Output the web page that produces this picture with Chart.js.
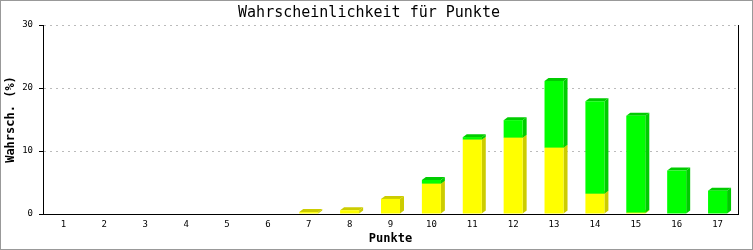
<!DOCTYPE html>
<html>
<head>
<meta charset="utf-8">
<script src="https://cdn.jsdelivr.net/npm/chart.js@4/dist/chart.umd.min.js"></script>
<style>
  html, body { margin: 0; padding: 0; background: #fff; }
  canvas { display: block; }
</style>
</head>
<body>
<canvas id="chart" width="753" height="250"></canvas>
<script>
const punkte = ["1", "2", "3", "4", "5", "6", "7", "8", "9", "10", "11", "12", "13", "14", "15", "16", "17"];
const gelbWerte = [0, 0, 0, 0, 0, 0, 0.3, 0.6, 2.4, 4.8, 11.8, 12.1, 10.5, 3.2, 0.2, 0, 0];
const gruenWerte = [0, 0, 0, 0, 0, 0, 0, 0, 0, 0.6, 0.4, 2.8, 10.6, 14.7, 15.4, 6.9, 3.7];
const yTicks = [0, 10, 20, 30];

const MONO = "'DejaVu Sans Mono', 'Liberation Mono', monospace";
const DEPTH_X = 4;
const DEPTH_Y = 3;

// side and top faces, drawn behind the flat bars
const bars3d = {
  id: "bars3d",
  beforeDatasetsDraw(chart) {
    const ctx = chart.ctx;
    ctx.save();
    chart.data.datasets.forEach((ds, di) => {
      const meta = chart.getDatasetMeta(di);
      meta.data.forEach((bar, i) => {
        if (!ds.data[i]) return;
        const { x, y, base, width } = bar.getProps(["x", "y", "base", "width"], true);
        const left = x - width / 2;
        const right = x + width / 2;
        ctx.fillStyle = ds.sideColor;
        ctx.beginPath();
        ctx.moveTo(right, y);
        ctx.lineTo(right + DEPTH_X, y - DEPTH_Y);
        ctx.lineTo(right + DEPTH_X, base - DEPTH_Y);
        ctx.lineTo(right, base);
        ctx.closePath();
        ctx.fill();
        ctx.beginPath();
        ctx.moveTo(left, y);
        ctx.lineTo(left + DEPTH_X, y - DEPTH_Y);
        ctx.lineTo(right + DEPTH_X, y - DEPTH_Y);
        ctx.lineTo(right, y);
        ctx.closePath();
        ctx.fill();
      });
    });
    ctx.restore();
  },
};

// image frame and right edge of plot
const frame = {
  id: "frame",
  beforeDraw(chart) {
    const ctx = chart.ctx;
    ctx.save();
    ctx.fillStyle = "#fff";
    ctx.fillRect(0, 0, chart.width, chart.height);
    ctx.restore();
  },
  afterDraw(chart) {
    const ctx = chart.ctx;
    const area = chart.chartArea;
    ctx.save();
    ctx.strokeStyle = "#000";
    ctx.lineWidth = 1;
    ctx.beginPath();
    ctx.moveTo(Math.round(area.right) + 0.5, area.top);
    ctx.lineTo(Math.round(area.right) + 0.5, area.bottom);
    ctx.stroke();
    ctx.strokeStyle = "#999";
    ctx.strokeRect(0.5, 0.5, chart.width - 1, chart.height - 1);
    ctx.restore();
  },
};

new Chart(document.getElementById("chart"), {
  type: "bar",
  data: {
    labels: punkte,
    datasets: [
      {
        label: "gelb",
        data: gelbWerte,
        backgroundColor: "#ffff00",
        sideColor: "#cccc00",
        borderWidth: 0,
      },
      {
        label: "grün",
        data: gruenWerte,
        backgroundColor: "#00ff00",
        sideColor: "#00cc00",
        borderWidth: 0,
      },
    ],
  },
  options: {
    responsive: false,
    animation: false,
    events: [],
    categoryPercentage: 1,
    barPercentage: 0.465,
    layout: {
      padding: { left: 0, right: 15, top: 0, bottom: 0 },
    },
    plugins: {
      legend: { display: false },
      tooltip: { enabled: false },
      title: {
        display: true,
        text: "Wahrscheinlichkeit für Punkte",
        color: "#000",
        font: { family: MONO, size: 15, weight: "normal" },
        padding: { top: 4, bottom: 3 },
      },
    },
    scales: {
      x: {
        stacked: true,
        grid: { display: false, drawTicks: false },
        border: { display: true, color: "#000", width: 1 },
        ticks: {
          color: "#000",
          font: { family: MONO, size: 9 },
          padding: 5,
          maxRotation: 0,
        },
        title: {
          display: true,
          text: "Punkte",
          color: "#000",
          font: { family: MONO, size: 12, weight: "bold" },
          padding: { top: 0, bottom: 4 },
        },
        afterFit(scale) {
          scale.height = 36;
        },
      },
      y: {
        stacked: true,
        min: 0,
        max: 30,
        afterBuildTicks(scale) {
          scale.ticks = yTicks.map((v) => ({ value: v }));
        },
        grid: {
          color: "#bbbbbb",
          tickColor: "#000",
          tickLength: 4,
        },
        border: { display: true, color: "#000", width: 1, dash: [2, 4] },
        ticks: {
          color: "#000",
          font: { family: MONO, size: 9 },
          padding: 6,
        },
        title: {
          display: true,
          text: "Wahrsch. (%)",
          color: "#000",
          font: { family: MONO, size: 12, weight: "bold" },
          padding: { top: 4, bottom: 0 },
        },
        afterFit(scale) {
          scale.width = 43;
        },
      },
    },
  },
  plugins: [frame, bars3d],
});
</script>
</body>
</html>
